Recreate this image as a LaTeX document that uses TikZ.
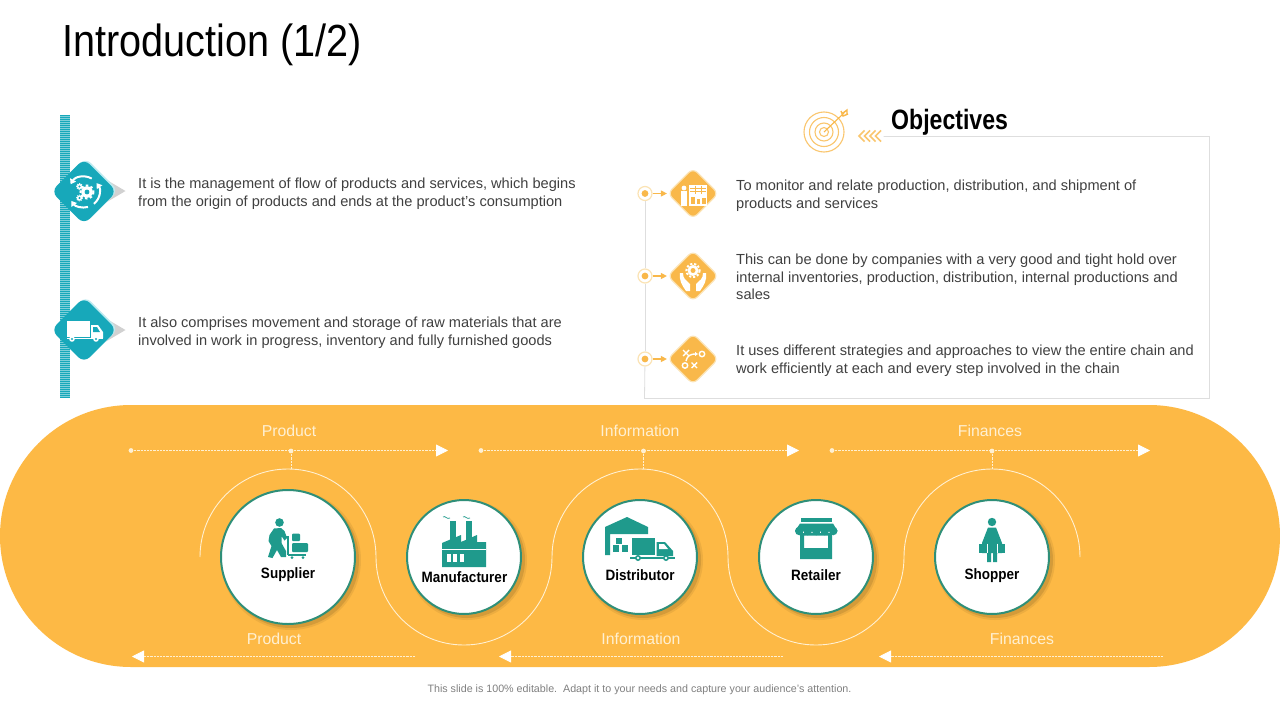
\documentclass[tikz,border=0pt]{standalone}
\usepackage{fontspec}
\setmainfont{Liberation Sans}
\usetikzlibrary{arrows.meta,shapes.geometric}
\definecolor{pill}{HTML}{FDB945}
\definecolor{teald}{HTML}{17A8BA}
\definecolor{tealpale}{HTML}{BDEAF0}
\definecolor{iconc}{HTML}{1F9A8C}
\definecolor{ringc}{HTML}{2F8F78}
\definecolor{amber}{HTML}{F9B84A}
\definecolor{pale}{HTML}{FBE3B4}
\definecolor{bodyc}{HTML}{404040}
\definecolor{labc}{HTML}{FFF0D2}
\definecolor{framec}{HTML}{DEDEDE}
\tikzset{
 bodytext/.style={anchor=west,inner sep=0,align=left,text=bodyc,font=\fontsize{14.6}{17.6}\selectfont},
 flow/.style={labc,line width=.8,dash pattern=on 2.2 off 1},
 flowhead/.style={flow,-{Triangle[length=12,width=12,fill=white,color=white]}},
 flowlabel/.style={inner sep=0,text=labc,font=\fontsize{15.8}{18}\selectfont},
 wave/.style={draw=labc,line width=.9},
 stage/.style={circle,draw=ringc,line width=2,fill=white,inner sep=0},
 stagelabel/.style={inner sep=0,xscale=.9,font=\fontsize{15}{17}\bfseries\selectfont,text=black},
 tealdia/.style={diamond,fill=teald,minimum width=66,minimum height=66,inner sep=0,rounded corners=8},
 ambdia/.style={diamond,fill=amber,draw=pale,line width=1.2,minimum width=51,minimum height=51,inner sep=0,rounded corners=6},
 dotring/.style={circle,draw=pale,line width=1.2,fill=white,minimum size=14,inner sep=0},
 frameline/.style={draw=framec,line width=.8},
 feed/.style={draw=amber,line width=1.2,-{Triangle[length=6,width=6]}},
 ringarrow/.style={white,line width=2,-{Triangle[length=5,width=6.5]}},
}
\newcommand{\gearat}[4]{%
 \fill[#4] (#1,#2) circle (#3);
 \draw[#4,line width=#3*0.35,dash pattern=on #3*0.42 off #3*0.42] (#1,#2) circle (#3*1.12);
 \fill[teald] (#1,#2) circle (#3*0.42);}
\begin{document}
\begin{tikzpicture}[x=1pt,y=-1pt]
\useasboundingbox (0,0) rectangle (1280,720);
\fill[white] (0,0) rectangle (1280,720);
\node[anchor=west,inner sep=0,xscale=.88,font=\fontsize{45}{50}\selectfont] (title) at (62,45) {Introduction (1/2)};
% left stripe
\fill[teald] (60,115) rectangle (69.5,397.5);
\foreach \yy in {116,118,...,396} \fill[white,opacity=.45] (60,\yy) rectangle (69.5,\yy+.7);
% left diamonds
\fill[black!18] (100,176) -- (125.5,191) -- (100,206) -- cycle;
\fill[black!18] (100,315) -- (125.5,330) -- (100,345) -- cycle;
\node[tealdia,fill=tealpale] (d1s) at (85.5,190.5) {};
\node[tealdia,fill=tealpale] (d2s) at (85.5,329) {};
\node[tealdia] (d1) at (84,191.5) {};
\node[tealdia] (d2) at (84,330) {};
% gears icon
\draw[ringarrow] (84,192) ++(60:15.5pt) arc[start angle=60,end angle=150,radius=15.5pt];
\draw[ringarrow] (84,192) ++(-50:15.5pt) arc[start angle=-50,end angle=35,radius=15.5pt];
\draw[ringarrow] (84,192) ++(-75:15.5pt) arc[start angle=-75,end angle=-145,radius=15.5pt];
\gearat{87}{192}{5.8}{white}
\gearat{79.5}{186.5}{2.6}{white}
\gearat{79.5}{198}{2.6}{white}
% truck icon
\fill[white] (67,321) rectangle (90,337);
\fill[white] (91,325) -- (98,325) -- (103,332) -- (103,338) -- (91,338) -- cycle;
\fill[teald] (93,327) -- (97,327) -- (100,332) -- (93,332) -- cycle;
\fill[white] (67,337.5) rectangle (103,339);
\foreach \xx in {72,96} {\fill[white] (\xx,339) circle (2.8); \fill[teald] (\xx,339) circle (1.2);}
\node[bodytext] (t1) at (138,194) {It is the management of flow of products and services, which begins\\from the origin of products and ends at the product's consumption};
\node[bodytext] (t2) at (138,333) {It also comprises movement and storage of raw materials that are\\involved in work in progress, inventory and fully furnished goods};
% objectives frame
\coordinate (fa) at (883.5,136.5);
\coordinate (fb) at (1209.5,136.5);
\coordinate (fc) at (1209.5,398.5);
\coordinate (fd) at (644.5,398.5);
\node[dotring] (b1) at (645,193.5) {};
\node[dotring] (b2) at (645,276) {};
\node[dotring] (b3) at (645,359) {};
\draw[frameline] (fa) -- (fb) -- (fc) -- (fd) -- (b3);
\draw[frameline] (b3) -- (b2);
\draw[frameline] (b2) -- (b1);
\foreach \n in {b1,b2,b3} \fill[amber] (\n) circle (3.4);
\node[ambdia] (o1) at (693,193.5) {};
\node[ambdia] (o2) at (693,276) {};
\node[ambdia] (o3) at (693,359) {};
\draw[feed] (b1.east) -- (o1.west);
\draw[feed] (b2.east) -- (o2.west);
\draw[feed] (b3.east) -- (o3.west);
% objective icon 1
\fill[white] (684,188) circle (2.4);
\fill[white] (681,191) rectangle (687,206);
\fill[white] (689,184.5) rectangle (707,205.5);
\foreach \yy in {188,191.5} \draw[amber,line width=.7] (690,\yy) -- (706,\yy);
\foreach \xx in {695,701} \draw[amber,line width=.7] (\xx,185.5) -- (\xx,194);
\fill[amber] (691,197) rectangle (694.5,203.5);
\fill[amber] (696.5,199) rectangle (700,203.5);
\fill[amber] (702,197.5) rectangle (705.5,203.5);
% objective icon 2
\fill[white] (693,270.5) circle (5.5);
\draw[white,line width=2,dash pattern=on 2.2 off 1.8] (693,270.5) circle (6.6);
\fill[amber] (693,270.5) circle (2.5);
\fill[white] (680,273) -- (683,273) .. controls (683,279) and (686,280) .. (690,284) -- (690,291) -- (686,291) .. controls (682,285) and (679,281) .. cycle;
\fill[white] (706,273) -- (703,273) .. controls (703,279) and (700,280) .. (696,284) -- (696,291) -- (700,291) .. controls (704,285) and (707,281) .. cycle;
% objective icon 3
\begin{scope}[white,line width=1.4]
\draw (683,350) -- (689,356) (689,350) -- (683,356);
\draw (691.5,362.5) -- (697,368) (697,362.5) -- (691.5,368);
\draw (702,354) circle (2.7);
\draw (685,365.5) circle (2.7);
\draw[-{Triangle[length=3,width=4]}] (686,361) .. controls (687,355) and (692,354) .. (698,354);
\end{scope}
% target
\foreach \rr in {20,14.5,9,4.5} \draw[amber!80,line width=1.1] (824,132) circle (\rr);
\draw[amber,line width=1.1] (824,132) -- (844,113);
\draw[amber,line width=1.4] (841,111) -- (843,116) -- (848,114) (843,113)--(847,110)--(847,114);
\foreach \xx in {859,864.5,870,875.5} \draw[amber!80,line width=1.6] (\xx+5.5,130.5) -- (\xx,136) -- (\xx+5.5,141.5);
\node[anchor=west,inner sep=0,xscale=.825,font=\fontsize{28}{30}\bfseries\selectfont] (objt) at (891,122) {Objectives};
\node[bodytext] (r1) at (736,196) {To monitor and relate production, distribution, and shipment of\\products and services};
\node[bodytext] (r2) at (736,277) {This can be done by companies with a very good and tight hold over\\internal inventories, production, distribution, internal productions and\\sales};
\node[bodytext] (r3) at (736,361) {It uses different strategies and approaches to view the entire chain and\\work efficiently at each and every step involved in the chain};
% pill
\fill[pill] (131,405) -- (1149,405) arc[start angle=-90,end angle=90,radius=131] -- (131,667) arc[start angle=90,end angle=270,radius=131] -- cycle;
% flow lines
\coordinate (p1a) at (131,450.5); \coordinate (p1b) at (448,450.5);
\coordinate (p2a) at (481,450.5); \coordinate (p2b) at (799,450.5);
\coordinate (p3a) at (832,450.5); \coordinate (p3b) at (1150,450.5);
\coordinate (q1a) at (415,656.5); \coordinate (q1b) at (132,656.5);
\coordinate (q2a) at (783,656.5); \coordinate (q2b) at (499,656.5);
\coordinate (q3a) at (1163,656.5); \coordinate (q3b) at (879,656.5);
\coordinate (m1) at (291,451); \coordinate (m2) at (643.5,451); \coordinate (m3) at (992,451);
\coordinate (w1) at (291,469); \coordinate (w2) at (643.5,469); \coordinate (w3) at (992,469);
\foreach \a/\b in {p1a/p1b,p2a/p2b,p3a/p3b,q1a/q1b,q2a/q2b,q3a/q3b} \draw[flowhead] (\a) -- (\b);
\foreach \a/\b in {m1/w1,m2/w2,m3/w3} \draw[flow] (\a) -- (\b);
\foreach \n in {p1a,p2a,p3a,m1,m2,m3} \fill[labc] (\n) circle (2.4);
\draw[wave] (200,557) arc[start angle=180,end angle=0,x radius=88,y radius=-88]
 arc[start angle=180,end angle=360,x radius=88,y radius=-88]
 arc[start angle=180,end angle=0,x radius=88,y radius=-88]
 arc[start angle=180,end angle=360,x radius=88,y radius=-88]
 arc[start angle=180,end angle=0,x radius=88,y radius=-88];
\node[flowlabel] (l1) at (289,431) {Product};
\node[flowlabel] (l2) at (640,431) {Information};
\node[flowlabel] (l3) at (990,431) {Finances};
\node[flowlabel] (l4) at (274,639) {Product};
\node[flowlabel] (l5) at (641,639) {Information};
\node[flowlabel] (l6) at (1022,639) {Finances};
% stages
\foreach \xx/\rr in {288/67,464/57,640/57,816/57,992/57} {
 \fill[black!60!pill,opacity=.1] (\xx+3,560) circle (\rr+3);
 \fill[black!60!pill,opacity=.18] (\xx+3,560) circle (\rr+1);}
\node[stage,minimum size=134] (s1) at (288,557) {};
\node[stage,minimum size=114] (s2) at (464,557) {};
\node[stage,minimum size=114] (s3) at (640,557) {};
\node[stage,minimum size=114] (s4) at (816,557) {};
\node[stage,minimum size=114] (s5) at (992,557) {};
\node[stagelabel] (n1) at (288,575) {Supplier};
\node[stagelabel] (n2) at (464.5,577.5) {Manufacturer};
\node[stagelabel] (n3) at (640,575.5) {Distributor};
\node[stagelabel] (n4) at (816,575) {Retailer};
\node[stagelabel] (n5) at (992,576) {Shopper};
% supplier icon
\fill[iconc] (279.5,522.5) circle (4.3);
\fill[iconc] (274,528.5) -- (281,528) -- (284.5,531) -- (287,538) -- (284.5,540.5) -- (281.5,536) -- (281.5,543) -- (286,551) -- (286,557) -- (281,557) -- (277,550) -- (272.5,558) -- (268,557) -- (271.5,546) -- (268.5,541) -- (269.5,535) -- cycle;
\draw[iconc,line width=1.3] (283,537) -- (288,537) -- (288,555);
\fill[iconc,rounded corners=1] (292,533.5) rectangle (300,541);
\fill[iconc,rounded corners=1] (292,543) rectangle (308,552);
\fill[iconc] (288,554) rectangle (306,556);
\fill[iconc] (292,557.5) circle (1.5) (303,557.5) circle (1.5);
% factory icon
\fill[iconc] (449.5,521) rectangle (455.5,540);
\fill[iconc] (466,521) rectangle (472,540);
\fill[iconc] (442,567) -- (442,543) -- (461,535) -- (461,542) -- (477,535) -- (477,542) -- (486,542) -- (486,567) -- cycle;
\draw[white,line width=.8] (442,549) -- (486,549);
\foreach \xx in {446.5,453,459.5} \fill[white] (\xx,553.5) rectangle (\xx+4,561.5);
\draw[iconc,line width=.7] (443,517) .. controls (445,515) and (447,520) .. (450,518);
\draw[iconc,line width=.7] (463,517) .. controls (465,515) and (467,520) .. (470,518);
% distributor icon
\fill[iconc] (605,555) -- (605,527) -- (627,517) -- (648,527) -- (648,534) -- (610,534) -- (610,555) -- cycle;
\fill[iconc] (632,538) rectangle (655,555);
\fill[iconc] (656.5,542) -- (665,542) -- (673,551) -- (673,556) -- (656.5,556) -- cycle;
\fill[white] (659,544) -- (664,544) -- (668,549) -- (659,549) -- cycle;
\fill[iconc] (630,557) rectangle (675,559);
\foreach \xx in {638,666} {\fill[iconc] (\xx,558) circle (3); \fill[white] (\xx,558) circle (1.3);}
\foreach \xx/\yy in {616/537.5,613/545,622/545} \fill[iconc] (\xx,\yy) rectangle (\xx+6,\yy+6.5);
% retailer icon
\fill[iconc] (801,518) rectangle (832,522);
\fill[iconc,even odd rule] (800,533) rectangle (832,559) (804,535.5) rectangle (828,548);
\fill[iconc] (800,523.5) -- (833,523.5) -- (837.5,531) -- (795,531) -- cycle;
\foreach \xx in {799.25,807.75,816.25,824.75,833.25} \fill[iconc] (\xx,531) circle (4.25);
% shopper icon
\fill[iconc] (992,522) circle (4.2);
\fill[iconc] (988,527.5) -- (996,527.5) -- (1002,543) -- (1002,553) -- (997,553) -- (997,562) -- (993,562) -- (993,553) -- (991,553) -- (991,562) -- (987,562) -- (987,553) -- (982,553) -- (982,543) -- cycle;
\fill[iconc] (979,543.5) rectangle (987,553);
\fill[iconc] (997,543.5) rectangle (1005,553);
\draw[white,line width=.6] (987,543.5) -- (987,553) (997,543.5) -- (997,553);
\node[inner sep=0,text=black!50,font=\fontsize{10.7}{12}\selectfont] (foot) at (639.5,690) {This slide is 100\% editable.\ \ Adapt it to your needs and capture your audience's attention.};
\end{tikzpicture}
\end{document}
